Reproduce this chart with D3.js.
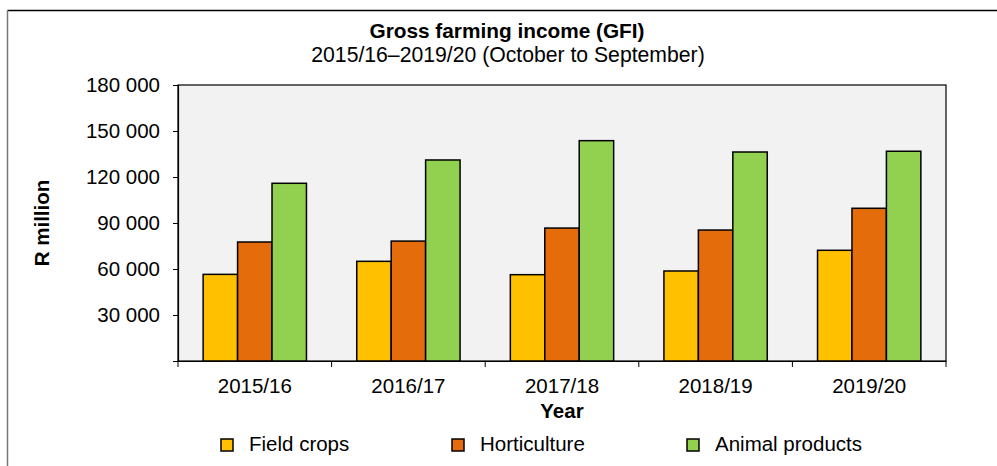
<!DOCTYPE html>
<html><head><meta charset="utf-8">
<script src="https://cdn.jsdelivr.net/npm/d3@7"></script>
<style>body{margin:0;background:#fff;} text{font-family:Arial,"Liberation Sans",sans-serif;fill:#000;}</style>
</head><body>
<svg id="c" width="997" height="466"></svg>
<script>
const years = ["2015/16","2016/17","2017/18","2018/19","2019/20"];
const seriesNames = ["Field crops","Horticulture","Animal products"];
const fieldCrops = [56500, 65000, 56300, 58700, 72200];
const horticulture = [77600, 78200, 86700, 85400, 99600];
const animalProducts = [115900, 131100, 143700, 136300, 136800];
const yTicks = [0, 30000, 60000, 90000, 120000, 150000, 180000];
const colors = ["#FFC000","#E46C0A","#92D050"];

const series = [fieldCrops, horticulture, animalProducts];
const svg = d3.select("#c");
const L=178, R=946, T=85, B=361;

// outer frame
svg.append("line").attr("x1",7.5).attr("x2",997).attr("y1",10.5).attr("y2",10.5).attr("stroke","#000").attr("stroke-width",1.5);
svg.append("line").attr("x1",7.5).attr("x2",7.5).attr("y1",10).attr("y2",466).attr("stroke","#777").attr("stroke-width",1.5);

svg.append("rect").attr("x",L).attr("y",T).attr("width",R-L).attr("height",B-T).attr("fill","#F2F2F2").attr("stroke","#000").attr("stroke-width",1.2);

const x0 = d3.scaleBand().domain(years).range([L,R]);
const x1 = d3.scaleBand().domain(d3.range(3)).range([0, x0.bandwidth()]).paddingOuter(0.73).paddingInner(0);
const y = d3.scaleLinear().domain([0,180000]).range([B,T]);

const fmt = d => d3.format(",")(d).replace(/,/g," ");

// y axis
const ya = svg.append("g").attr("transform",`translate(${L},0)`)
  .call(d3.axisLeft(y).tickValues(yTicks).tickSize(5).tickPadding(13).tickFormat(d=> d===0?"":fmt(d)));
ya.select(".domain").attr("stroke","#000").attr("stroke-width",1.2);
ya.selectAll(".tick line").attr("stroke","#000");
ya.selectAll("text").attr("font-size",20.5).attr("font-family","Arial, Liberation Sans, sans-serif").attr("fill","#000");

// bars
const g = svg.append("g");
years.forEach((yr,i)=>{
  series.forEach((s,j)=>{
    g.append("rect").attr("x",x0(yr)+x1(j)).attr("y",y(s[i])).attr("width",x1.bandwidth()).attr("height",B-y(s[i]))
      .attr("fill",colors[j]).attr("stroke","#000").attr("stroke-width",1.5);
  });
});

// x axis
const xa = svg.append("g").attr("transform",`translate(0,${B})`)
  .call(d3.axisBottom(x0).tickSize(0).tickPadding(17));
xa.select(".domain").attr("stroke","#000").attr("stroke-width",1.2);
xa.selectAll("text").attr("font-size",20.5).attr("font-family","Arial, Liberation Sans, sans-serif").attr("fill","#000");
// band edge ticks
const edges = years.map(d=>x0(d)).concat([R]);
svg.append("g").selectAll("line").data(edges).join("line")
  .attr("x1",d=>d).attr("x2",d=>d).attr("y1",B).attr("y2",B+6).attr("stroke","#000").attr("stroke-width",1);

// titles
svg.append("text").attr("x",507).attr("y",38).attr("text-anchor","middle").attr("font-size",20.8).attr("font-weight","bold").text("Gross farming income (GFI)");
svg.append("text").attr("x",508).attr("y",62).attr("text-anchor","middle").attr("font-size",21.2).text("2015/16–2019/20 (October to September)");
svg.append("text").attr("x",(L+R)/2).attr("y",418).attr("text-anchor","middle").attr("font-size",20.5).attr("font-weight","bold").text("Year");
svg.append("text").attr("transform",`translate(49,223) rotate(-90)`).attr("text-anchor","middle").attr("font-size",20.5).attr("font-weight","bold").text("R million");

// legend
const legX = [221, 452, 687];
seriesNames.forEach((n,j)=>{
  svg.append("rect").attr("x",legX[j]).attr("y",439).attr("width",12).attr("height",12).attr("fill",colors[j]).attr("stroke","#000").attr("stroke-width",1.5);
  svg.append("text").attr("x",legX[j]+28).attr("y",451).attr("font-size",20.5).text(n);
});
</script>
</body></html>
